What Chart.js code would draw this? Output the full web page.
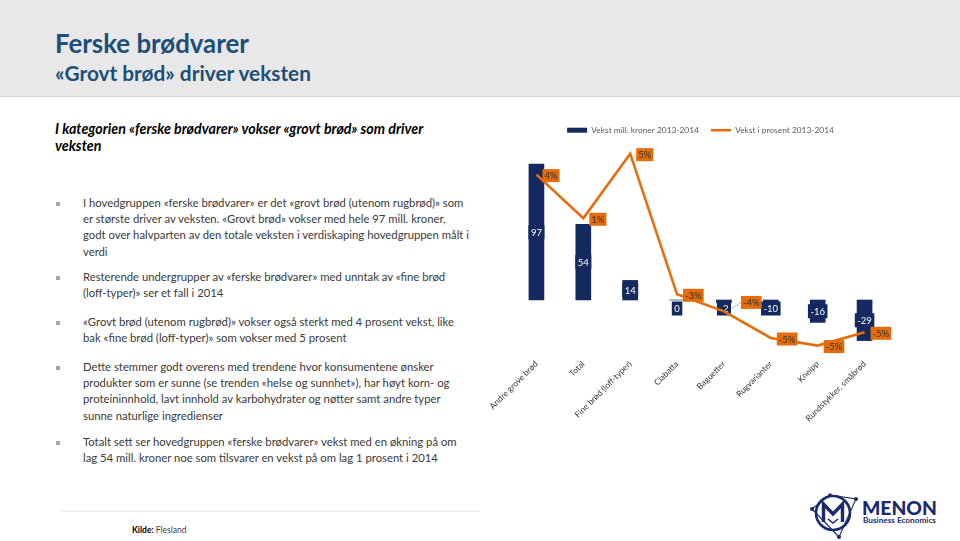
<!DOCTYPE html>
<html><head><meta charset="utf-8">
<script src="https://cdn.jsdelivr.net/npm/chart.js@4.4.1/dist/chart.umd.min.js"></script>
<style>
html,body{margin:0;padding:0;}
body{width:960px;height:541px;position:relative;overflow:hidden;background:#fff;font-family:Lato,'Open Sans',sans-serif;color:#404040;}
.abs{position:absolute;white-space:nowrap;}
#band{left:0;top:0;width:960px;height:96px;background:#e8e8e8;border-bottom:1px solid #d6d6d6;}
.bul{position:absolute;left:56px;width:4px;height:4px;background:#a6a6a6;}
#chartWrap{position:absolute;left:480px;top:114px;width:480px;height:336px;}
</style></head><body>
<div id="band" class="abs"></div>
<div id="title" class="abs" style="left:55px;font-weight:700;color:#1d4e7a">Ferske brødvarer</div>
<div id="sub" class="abs" style="left:55px;font-weight:700;color:#1d4e7a">«Grovt brød» driver veksten</div>
<div id="head" class="abs" style="left:55px;font-weight:700;font-style:italic;color:#000">I kategorien «ferske brødvarer» vokser «grovt brød» som driver<br>veksten</div>

<div class="abs body" data-b="207.5">I hovedgruppen «ferske brødvarer» er det «grovt brød (utenom rugbrød)» som<br>er største driver av veksten. «Grovt brød» vokser med hele 97 mill. kroner,<br>godt over halvparten av den totale veksten i verdiskaping hovedgruppen målt i<br>verdi</div>
<div class="abs body" data-b="281.5">Resterende undergrupper av «ferske brødvarer» med unntak av «fine brød<br>(loff-typer)» ser et fall i 2014</div>
<div class="abs body" data-b="326.5">«Grovt brød (utenom rugbrød)» vokser også sterkt med 4 prosent vekst, like<br>bak «fine brød (loff-typer)» som vokser med 5 prosent</div>
<div class="abs body" data-b="371.5">Dette stemmer godt overens med trendene hvor konsumentene ønsker<br>produkter som er sunne (se trenden «helse og sunnhet»), har høyt korn- og<br>proteininnhold, lavt innhold av karbohydrater og nøtter samt andre typer<br>sunne naturlige ingredienser</div>
<div class="abs body" data-b="446.5">Totalt sett ser hovedgruppen «ferske brødvarer» vekst med en økning på om<br>lag 54 mill. kroner noe som tilsvarer en vekst på om lag 1 prosent i 2014</div>

<div class="abs" style="left:60px;top:510px;width:420px;height:2px;background:#efefef"></div>
<div id="src" class="abs" style="left:132px;font-size:8.5px;line-height:10px;top:525px;color:#404040"><b style="color:#000">Kilde:</b> Flesland</div>

<svg class="abs" style="left:806px;top:489px" width="56" height="52" viewBox="0 0 56 52">
 <g stroke="#1b2a6b" fill="none">
  <path d="M6 20 L24 6 L50 10 L33 48 Z" stroke-width="1.1"/>
  <circle cx="27" cy="24" r="17" stroke-width="2.6"/>
  <path d="M17.5 33 L17.5 15 L27 25 L36.5 15 L36.5 33" stroke-width="3.4" stroke-linejoin="miter"/>
  <path d="M22 30 L27 34 L32 30" stroke-width="1.6"/>
 </g>
 <g fill="#1b2a6b"><circle cx="6" cy="20" r="2"/><circle cx="24" cy="6" r="1.8"/><circle cx="50" cy="10" r="2"/><circle cx="33" cy="48" r="2"/></g>
</svg>
<div id="menon" class="abs" style="left:862px;font-weight:900;color:#1b2a6b">MENON</div>
<div id="bizz" class="abs" style="left:863px;font-weight:700;color:#1b2a6b">Business Economics</div>

<div id="chartWrap"><canvas id="c" width="480" height="336"></canvas></div>

<script>
// ---- data ----
const categories = ['Andre grove brød', 'Total', 'Fine brød (loff-typer)', 'Ciabatta', 'Baguetter', 'Rugvarianter', 'Kneipp', 'Rundstykker, småbrød'];
const growthMNOK = [97, 54, 14, 0, -2, -10, -16, -29];
const growthPct = [3.6, 1.3, 4.7, -2.7, -3.6, -5.0, -5.4, -4.7];
const seriesNames = ['Vekst mill. kroner 2013-2014', 'Vekst i prosent 2013-2014'];

// ---- text layout helpers ----
const mctx = document.createElement('canvas').getContext('2d');
function tw(str, font){ mctx.font = font; return mctx.measureText(str).width; }
function sizeFor(str, ws, target){ return 100 * target / tw(str, ws + ' 100px Lato'); }
function place(el, F, L, baseline){
  el.style.fontSize = F + 'px';
  el.style.lineHeight = L + 'px';
  el.style.top = (baseline - ((L - 1.2 * F) / 2 + 0.987 * F)) + 'px';
}
const tF = sizeFor('Ferske brødvarer', '700', 194);
place(document.getElementById('title'), tF, tF * 1.2, 54);
const sF = sizeFor('«Grovt brød» driver veksten', '700', 257);
place(document.getElementById('sub'), sF, sF * 1.2, 81);
const hF = sizeFor('I kategorien «ferske brødvarer» vokser «grovt brød» som driver', 'italic 700', 369);
place(document.getElementById('head'), hF, 17.5, 134);
const bF = sizeFor('I hovedgruppen «ferske brødvarer» er det «grovt brød (utenom rugbrød)» som', '400', 381);
document.querySelectorAll('.body').forEach(el => {
  const b = parseFloat(el.dataset.b);
  el.style.left = '83px';
  el.style.color = '#3a3a3a';
  place(el, bF, 16.2, b);
  const sq = document.createElement('div');
  sq.className = 'bul';
  sq.style.top = (b - 5.5) + 'px';
  document.body.appendChild(sq);
});
const mF = sizeFor('MENON', '900', 75);
place(document.getElementById('menon'), mF, mF * 1.2, 515.5);
const zF = sizeFor('Business Economics', '700', 73);
place(document.getElementById('bizz'), zF, zF * 1.2, 524.5);

// ---- chart ----
const NAVY = '#14295f';
const ORANGE = '#e46c0a';
Chart.defaults.font.family = 'Lato';

const valueLabels = {
  id: 'valueLabels',
  afterDatasetDraw(chart, args) {
    if (args.meta.type !== 'bar') return;
    const ctx = chart.ctx;
    const ds = chart.data.datasets[args.index];
    const base = chart.scales.y.getPixelForValue(0);
    ctx.save();
    ctx.font = '9.5px Lato';
    ctx.textAlign = 'center';
    ctx.textBaseline = 'middle';
    args.meta.data.forEach((el, i) => {
      const v = ds.data[i];
      const txt = String(v);
      const w = ctx.measureText(txt).width + 5, h = 14;
      let cy = (el.y + el.base) / 2;
      if (v <= 0) cy = Math.max(cy, base + 1.5 + h / 2);
      else cy = Math.min(cy, base - 1.5 - h / 2);
      ctx.fillStyle = NAVY;
      ctx.fillRect(el.x - w / 2, cy - h / 2, w, h);
      ctx.fillStyle = '#ffffff';
      ctx.fillText(txt, el.x, cy + 0.5);
    });
    ctx.restore();
  },
  afterDatasetsDraw(chart, args, opts) {
    const ctx = chart.ctx;
    const nudge = opts.nudge || {};
    chart.data.datasets.forEach((ds, di) => {
      const meta = chart.getDatasetMeta(di);
      if (meta.type !== 'line') return;
      ctx.save();
      ctx.font = '9.5px Lato';
      ctx.textAlign = 'left';
      ctx.textBaseline = 'middle';
      meta.data.forEach((pt, i) => {
        const txt = Math.round(ds.data[i]) + '%';
        const w = ctx.measureText(txt).width + 4, h = 13;
        const n = nudge[i] || {dx: 6, dy: 1};
        const x = pt.x + n.dx, cy = pt.y + n.dy;
        if (n.leader) {
          ctx.strokeStyle = '#a6a6a6';
          ctx.lineWidth = 0.8;
          ctx.beginPath();
          ctx.moveTo(pt.x + 8, pt.y - 3);
          ctx.lineTo(x, cy);
          ctx.stroke();
        }
        ctx.fillStyle = ORANGE;
        ctx.fillRect(x, cy - h / 2, w, h);
        ctx.fillStyle = '#333333';
        ctx.fillText(txt, x + 2, cy + 0.5);
      });
      ctx.restore();
    });
  }
};

const fixLegend = {
  id: 'fixLegend',
  beforeLayout(chart) {
    const lg = chart.legend;
    if (!lg || lg._fixed) return;
    const f = lg.fit.bind(lg);
    lg.fit = function () { f(); this.height = 26; };
    lg._fixed = true;
  }
};

new Chart(document.getElementById('c'), {
  type: 'bar',
  data: {
    labels: categories,
    datasets: [
      { type: 'bar', label: seriesNames[0], data: growthMNOK, backgroundColor: NAVY, borderWidth: 0,
        barThickness: 15, yAxisID: 'y', order: 1 },
      { type: 'line', label: seriesNames[1], data: growthPct, borderColor: ORANGE, backgroundColor: ORANGE,
        borderWidth: 2.6, pointRadius: 0, tension: 0, yAxisID: 'y1', order: 0 }
    ]
  },
  options: {
    responsive: false,
    animation: false,
    devicePixelRatio: 1,
    layout: { padding: { left: 33, right: 72, top: 0, bottom: 0 } },
    plugins: {
      tooltip: { enabled: false },
      valueLabels: { nudge: { 4: { dx: 17, dy: -9, leader: true } } },
      legend: {
        position: 'top',
        labels: {
          usePointStyle: true, pointStyleWidth: 20, boxHeight: 5, padding: 12,
          color: '#595959', font: { family: 'Lato', size: 8.4 },
          generateLabels(chart) {
            const items = Chart.defaults.plugins.legend.labels.generateLabels(chart);
            items.forEach(it => {
              if (it.datasetIndex === 0) {
                it.pointStyle = 'rect'; it.lineWidth = 0; it.fillStyle = NAVY; it.strokeStyle = NAVY;
              } else {
                it.pointStyle = 'line'; it.lineWidth = 2.6; it.strokeStyle = ORANGE;
              }
            });
            return items.sort((a, b) => a.datasetIndex - b.datasetIndex);
          }
        }
      }
    },
    scales: {
      x: {
        grid: { display: false, drawTicks: false },
        border: { display: false },
        ticks: { autoSkip: false, minRotation: 45, maxRotation: 45, padding: 4, color: '#333333',
                 font: { family: 'Lato', size: 8.4 } },
        afterFit(s) { s.height = 95; }
      },
      y: { display: false, min: -39.29, max: 114.29 },
      y1: { display: false, position: 'right', min: -5.895, max: 5.421 }
    }
  },
  plugins: [valueLabels, fixLegend]
});
</script>
</body></html>
